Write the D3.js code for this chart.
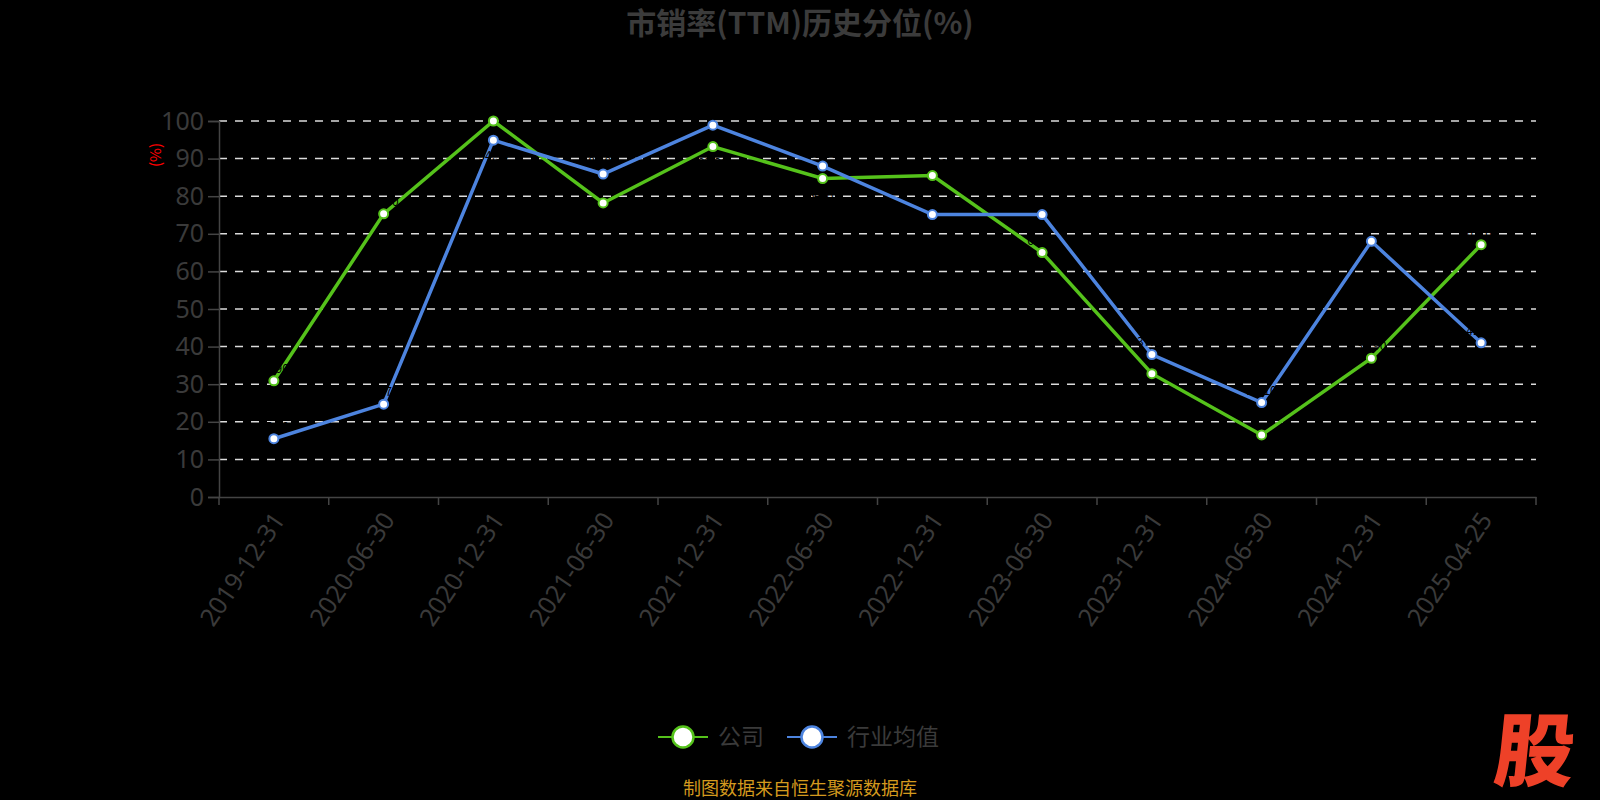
<!DOCTYPE html>
<html>
<head>
<meta charset="utf-8">
<script src="https://cdn.jsdelivr.net/npm/d3@7"></script>
<style>
  body { margin: 0; background: #000; }
  svg { display: block; font-family: "Noto Sans CJK SC", "Noto Sans", sans-serif; }
</style>
</head>
<body>
<div class="chart"></div>
<script>
const svgWidth = 1600;
const svgHeight = 800;

const margin = { top: 121, right: 64, bottom: 303, left: 219 };
const width = svgWidth - margin.left - margin.right;
const height = svgHeight - margin.top - margin.bottom;

// data
const dates = ["2019-12-31", "2020-06-30", "2020-12-31", "2021-06-30", "2021-12-31", "2022-06-30",
  "2022-12-31", "2023-06-30", "2023-12-31", "2024-06-30", "2024-12-31", "2025-04-25"];
const companyValues = [30.9, 75.3, 100, 78.2, 93.2, 84.7, 85.5, 65.0, 32.8, 16.5, 36.9, 67.1];
const industryValues = [15.5, 24.7, 94.9, 85.9, 98.9, 88.0, 75.1, 75.1, 37.9, 25.1, 68.0, 41.0];
const yTicks = [0, 10, 20, 30, 40, 50, 60, 70, 80, 90, 100];
const seriesNames = ["公司", "行业均值"];
const seriesColors = ["#55c21b", "#4d84df"];

const svg = d3.select(".chart")
  .append("svg")
  .attr("width", svgWidth)
  .attr("height", svgHeight);

svg.append("rect").attr("width", svgWidth).attr("height", svgHeight).attr("fill", "#000");

// title
svg.append("text")
  .attr("x", 800)
  .attr("y", 34)
  .attr("text-anchor", "middle")
  .attr("font-size", 30)
  .attr("font-weight", "bold")
  .attr("fill", "#3b3b3b")
  .text("市销率(TTM)历史分位(%)");

const chartGroup = svg.append("g")
  .attr("transform", `translate(${margin.left}, ${margin.top})`);

const xScale = d3.scaleBand().domain(dates).range([0, width]);
const yScale = d3.scaleLinear().domain([0, 100]).range([height, 0]);

// grid lines
chartGroup.append("g")
  .selectAll("line")
  .data(yTicks.filter(d => d > 0))
  .enter()
  .append("line")
  .attr("x1", 0)
  .attr("x2", width)
  .attr("y1", d => yScale(d))
  .attr("y2", d => yScale(d))
  .attr("stroke", "#dcdcdc")
  .attr("stroke-width", 1.5)
  .attr("stroke-dasharray", "8,8");

// y axis
const leftAxis = d3.axisLeft(yScale).tickValues(yTicks).tickSize(11).tickPadding(4);
const yAxis = chartGroup.append("g").call(leftAxis);
yAxis.select(".domain").attr("stroke", "#444").attr("stroke-width", 1.5);
yAxis.selectAll(".tick line").attr("stroke", "#444").attr("stroke-width", 1.5);
yAxis.selectAll(".tick text")
  .attr("fill", "#3a3a3a")
  .attr("font-size", 25)
  .attr("font-family", "'Noto Sans', sans-serif");

// y axis unit
chartGroup.append("text")
  .attr("transform", "rotate(-90)")
  .attr("x", -34)
  .attr("y", -58)
  .attr("text-anchor", "middle")
  .attr("font-size", 15)
  .attr("fill", "#ff0000")
  .text("(%)");

// x axis
const bottomAxis = d3.axisBottom(xScale).tickSize(0).tickFormat("");
const xAxis = chartGroup.append("g")
  .attr("transform", `translate(0, ${height})`)
  .call(bottomAxis);
xAxis.select(".domain").attr("stroke", "#444").attr("stroke-width", 1.5);

// boundary ticks
chartGroup.append("g")
  .selectAll("line")
  .data(dates.concat(["end"]))
  .enter()
  .append("line")
  .attr("x1", (d, i) => i * xScale.step())
  .attr("x2", (d, i) => i * xScale.step())
  .attr("y1", height)
  .attr("y2", height + 8)
  .attr("stroke", "#444")
  .attr("stroke-width", 1.5);

// x labels
chartGroup.append("g")
  .selectAll("text")
  .data(dates)
  .enter()
  .append("text")
  .attr("transform", d => `translate(${xScale(d) + xScale.bandwidth() / 2 + 5}, ${height + 18}) rotate(-56)`)
  .attr("text-anchor", "end")
  .attr("dy", "0.35em")
  .attr("font-size", 25)
  .attr("font-family", "'Noto Sans', sans-serif")
  .attr("fill", "#3a3a3a")
  .text(d => d);

const line = d3.line()
  .x((d, i) => xScale(dates[i]) + xScale.bandwidth() / 2)
  .y(d => yScale(d));

const allSeries = [companyValues, industryValues];

allSeries.forEach((values, s) => {
  chartGroup.append("path")
    .datum(values)
    .attr("fill", "none")
    .attr("stroke", seriesColors[s])
    .attr("stroke-width", 3.5)
    .attr("d", line);
});

// black data labels (hidden on black, they just nick the lines)
allSeries.forEach((values, s) => {
  const other = allSeries[1 - s];
  chartGroup.append("g")
    .selectAll("text")
    .data(values)
    .enter()
    .append("text")
    .attr("x", (d, i) => xScale(dates[i]) + xScale.bandwidth() / 2)
    .attr("y", (d, i) => {
      const below = other[i] > d && other[i] - d < 9;
      return below ? yScale(d) + 20 : yScale(d) - 8;
    })
    .attr("text-anchor", "middle")
    .attr("font-size", 12)
    .attr("fill", "#000")
    .text(d => d.toFixed(2));
});

allSeries.forEach((values, s) => {
  chartGroup.append("g")
    .selectAll("circle")
    .data(values)
    .enter()
    .append("circle")
    .attr("cx", (d, i) => xScale(dates[i]) + xScale.bandwidth() / 2)
    .attr("cy", d => yScale(d))
    .attr("r", 4.5)
    .attr("fill", "#fff")
    .attr("stroke", seriesColors[s])
    .attr("stroke-width", 2);
});

// legend
const legendItems = [
  { name: seriesNames[0], color: seriesColors[0], x: 658 },
  { name: seriesNames[1], color: seriesColors[1], x: 787 }
];
const legend = svg.append("g").attr("transform", "translate(0, 737)");
legendItems.forEach(item => {
  const g = legend.append("g").attr("transform", `translate(${item.x}, 0)`);
  g.append("line")
    .attr("x1", 0).attr("x2", 50)
    .attr("stroke", item.color).attr("stroke-width", 2);
  g.append("circle")
    .attr("cx", 25).attr("r", 10.5)
    .attr("fill", "#fff")
    .attr("stroke", item.color)
    .attr("stroke-width", 2.5);
  g.append("text")
    .attr("x", 60)
    .attr("dy", "0.36em")
    .attr("font-size", 23)
    .attr("fill", "#3a3a3a")
    .text(item.name);
});

// source note
svg.append("text")
  .attr("x", 800)
  .attr("y", 795)
  .attr("text-anchor", "middle")
  .attr("font-size", 18)
  .attr("fill", "#d49a1e")
  .text("制图数据来自恒生聚源数据库");

// watermark
svg.append("text")
  .attr("transform", "translate(1492, 780) skewX(-6)")
  .attr("font-size", 80)
  .attr("font-weight", "900")
  .attr("fill", "#ee4128")
  .text("股");
</script>
</body>
</html>
